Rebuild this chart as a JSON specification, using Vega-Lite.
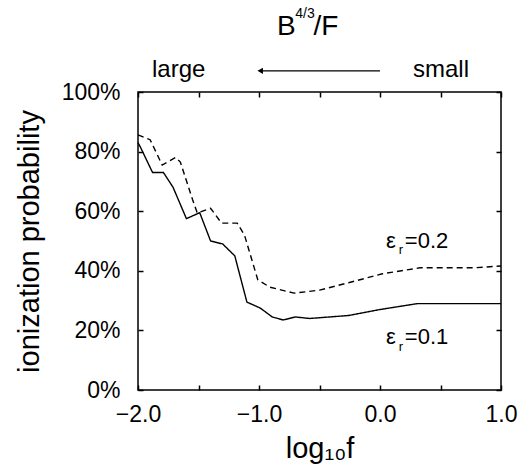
{
  "$schema": "https://vega.github.io/schema/vega-lite/v6.json",
  "width": 363,
  "height": 298,
  "autosize": {"type": "none"},
  "padding": {"left": 138, "top": 92, "right": 19, "bottom": 78},
  "background": "white",
  "config": {
    "view": {"stroke": "black", "strokeWidth": 1.5},
    "font": "Liberation Sans",
    "axis": {
      "domain": false,
      "grid": false,
      "tickColor": "black",
      "tickWidth": 1.5,
      "tickSize": -5,
      "labelFont": "Liberation Sans",
      "labelFontSize": 23,
      "labelColor": "black",
      "titleFont": "Liberation Sans",
      "titleFontSize": 29,
      "titleFontWeight": "normal",
      "titleColor": "black"
    }
  },
  "datasets": {
    "curves": [
      {"logf": -2.00, "p": 0.83, "eps": "0.1"},
      {"logf": -1.98, "p": 0.815, "eps": "0.1"},
      {"logf": -1.88, "p": 0.73, "eps": "0.1"},
      {"logf": -1.79, "p": 0.73, "eps": "0.1"},
      {"logf": -1.71, "p": 0.68, "eps": "0.1"},
      {"logf": -1.60, "p": 0.575, "eps": "0.1"},
      {"logf": -1.49, "p": 0.595, "eps": "0.1"},
      {"logf": -1.40, "p": 0.50, "eps": "0.1"},
      {"logf": -1.30, "p": 0.49, "eps": "0.1"},
      {"logf": -1.20, "p": 0.45, "eps": "0.1"},
      {"logf": -1.10, "p": 0.295, "eps": "0.1"},
      {"logf": -0.99, "p": 0.275, "eps": "0.1"},
      {"logf": -0.89, "p": 0.245, "eps": "0.1"},
      {"logf": -0.80, "p": 0.235, "eps": "0.1"},
      {"logf": -0.70, "p": 0.245, "eps": "0.1"},
      {"logf": -0.58, "p": 0.24, "eps": "0.1"},
      {"logf": -0.26, "p": 0.25, "eps": "0.1"},
      {"logf": 0.00, "p": 0.27, "eps": "0.1"},
      {"logf": 0.31, "p": 0.29, "eps": "0.1"},
      {"logf": 1.00, "p": 0.29, "eps": "0.1"},
      {"logf": -2.00, "p": 0.856, "eps": "0.2"},
      {"logf": -1.90, "p": 0.84, "eps": "0.2"},
      {"logf": -1.80, "p": 0.755, "eps": "0.2"},
      {"logf": -1.69, "p": 0.78, "eps": "0.2"},
      {"logf": -1.65, "p": 0.765, "eps": "0.2"},
      {"logf": -1.55, "p": 0.64, "eps": "0.2"},
      {"logf": -1.51, "p": 0.594, "eps": "0.2"},
      {"logf": -1.40, "p": 0.61, "eps": "0.2"},
      {"logf": -1.31, "p": 0.56, "eps": "0.2"},
      {"logf": -1.18, "p": 0.56, "eps": "0.2"},
      {"logf": -1.12, "p": 0.52, "eps": "0.2"},
      {"logf": -1.01, "p": 0.37, "eps": "0.2"},
      {"logf": -0.91, "p": 0.345, "eps": "0.2"},
      {"logf": -0.71, "p": 0.325, "eps": "0.2"},
      {"logf": -0.50, "p": 0.335, "eps": "0.2"},
      {"logf": -0.26, "p": 0.36, "eps": "0.2"},
      {"logf": 0.02, "p": 0.39, "eps": "0.2"},
      {"logf": 0.33, "p": 0.41, "eps": "0.2"},
      {"logf": 0.77, "p": 0.41, "eps": "0.2"},
      {"logf": 1.00, "p": 0.416, "eps": "0.2"}
    ],
    "epsMain": [
      {"logf": 0.05, "p": 0.4765, "t": "ε"},
      {"logf": 0.205, "p": 0.4765, "t": "=0.2"},
      {"logf": 0.05, "p": 0.154, "t": "ε"},
      {"logf": 0.205, "p": 0.154, "t": "=0.1"}
    ],
    "epsSub": [
      {"logf": 0.155, "p": 0.455, "t": "r"},
      {"logf": 0.155, "p": 0.1325, "t": "r"}
    ],
    "topBig": [
      {"logf": -0.851, "p": 1.191, "t": "B"},
      {"logf": -0.55, "p": 1.191, "t": "/F"}
    ],
    "topSup": [
      {"logf": -0.70, "p": 1.248, "t": "4/3"}
    ],
    "topMid": [
      {"logf": -1.884, "p": 1.05, "t": "large"},
      {"logf": 0.273, "p": 1.05, "t": "small"}
    ],
    "arrow": [
      {"x1": -0.99, "x2": 0.0, "p": 1.071}
    ]
  },
  "layer": [
    {
      "data": {"name": "curves"},
      "mark": {"type": "line", "color": "black", "strokeWidth": 1.4},
      "encoding": {
        "x": {
          "field": "logf", "type": "quantitative",
          "scale": {"domain": [-2, 1], "nice": false, "zero": false},
          "axis": {
            "orient": "bottom",
            "values": [-2, -1.5, -1, -0.5, 0, 0.5, 1],
            "labelExpr": "datum.value % 1 === 0 ? format(datum.value, '.1f') : ''",
            "labelPadding": 18,
            "labelFlush": false,
            "title": "log₁₀f",
            "titlePadding": 8
          }
        },
        "y": {
          "field": "p", "type": "quantitative",
          "scale": {"domain": [0, 1], "nice": false},
          "axis": {
            "orient": "left",
            "values": [0, 0.2, 0.4, 0.6, 0.8, 1],
            "format": ".0%",
            "labelPadding": 23,
            "title": "ionization probability",
            "titlePadding": 17
          }
        },
        "detail": {"field": "eps"},
        "strokeDash": {
          "field": "eps", "type": "nominal",
          "scale": {"domain": ["0.1", "0.2"], "range": [[1, 0], [6, 4]]},
          "legend": null
        }
      }
    },
    {
      "data": {"name": "epsMain"},
      "mark": {"type": "text", "align": "left", "baseline": "alphabetic", "fontSize": 22, "color": "black"},
      "encoding": {
        "x": {"field": "logf", "type": "quantitative", "axis": {"orient": "top", "values": [-2, -1.5, -1, -0.5, 0, 0.5, 1], "labels": false, "title": null}},
        "y": {"field": "p", "type": "quantitative", "axis": {"orient": "right", "values": [0, 0.2, 0.4, 0.6, 0.8, 1], "labels": false, "title": null}},
        "text": {"field": "t"}
      }
    },
    {
      "data": {"name": "epsSub"},
      "mark": {"type": "text", "align": "left", "baseline": "alphabetic", "fontSize": 13, "color": "black"},
      "encoding": {
        "x": {"field": "logf", "type": "quantitative", "axis": null},
        "y": {"field": "p", "type": "quantitative", "axis": null},
        "text": {"field": "t"}
      }
    },
    {
      "data": {"name": "topBig"},
      "mark": {"type": "text", "align": "left", "baseline": "alphabetic", "fontSize": 28, "color": "black"},
      "encoding": {
        "x": {"field": "logf", "type": "quantitative", "axis": null},
        "y": {"field": "p", "type": "quantitative", "axis": null},
        "text": {"field": "t"}
      }
    },
    {
      "data": {"name": "topSup"},
      "mark": {"type": "text", "align": "left", "baseline": "alphabetic", "fontSize": 14, "color": "black"},
      "encoding": {
        "x": {"field": "logf", "type": "quantitative", "axis": null},
        "y": {"field": "p", "type": "quantitative", "axis": null},
        "text": {"field": "t"}
      }
    },
    {
      "data": {"name": "topMid"},
      "mark": {"type": "text", "align": "left", "baseline": "alphabetic", "fontSize": 24, "color": "black"},
      "encoding": {
        "x": {"field": "logf", "type": "quantitative", "axis": null},
        "y": {"field": "p", "type": "quantitative", "axis": null},
        "text": {"field": "t"}
      }
    },
    {
      "data": {"name": "arrow"},
      "mark": {"type": "rule", "color": "black", "strokeWidth": 1.3},
      "encoding": {
        "x": {"field": "x1", "type": "quantitative", "axis": null},
        "x2": {"field": "x2"},
        "y": {"field": "p", "type": "quantitative", "axis": null}
      }
    },
    {
      "data": {"name": "arrow"},
      "mark": {"type": "point", "shape": "triangle-left", "filled": true, "color": "black", "size": 40, "opacity": 1},
      "encoding": {
        "x": {"field": "x1", "type": "quantitative", "axis": null},
        "y": {"field": "p", "type": "quantitative", "axis": null}
      }
    }
  ],
  "resolve": {"axis": {"x": "independent", "y": "independent"}}
}
